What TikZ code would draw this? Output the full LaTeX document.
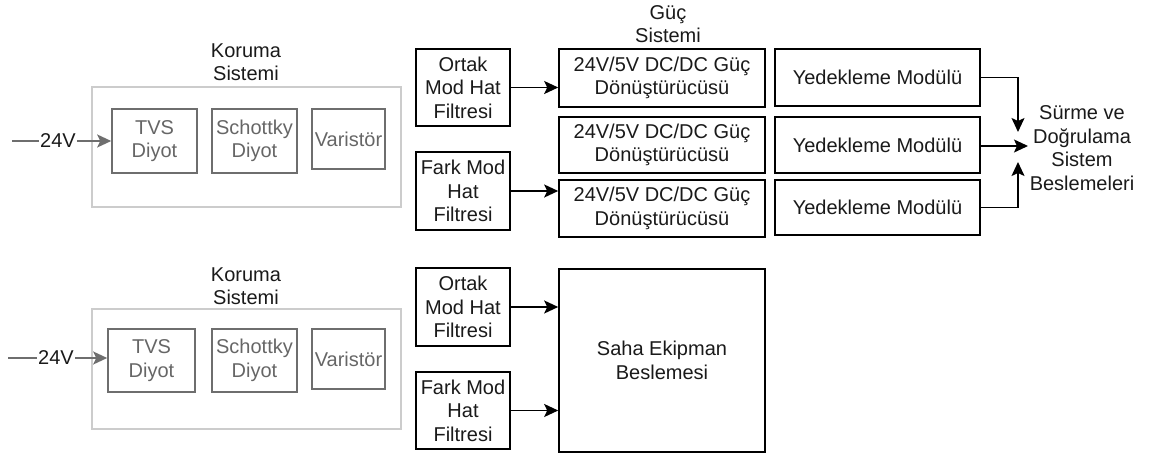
\documentclass[tikz,border=0pt]{standalone}
\usepackage{fontspec}
\setmainfont{Liberation Sans}
\usetikzlibrary{arrows.meta}
\definecolor{txt}{HTML}{1A1A1A}
\definecolor{softtxt}{HTML}{666666}
\definecolor{softline}{HTML}{6E6E6E}
\definecolor{frameline}{HTML}{CCCCCC}
\begin{document}
\begin{tikzpicture}[x=1pt,y=-1pt,
  font=\fontsize{20}{23.5}\selectfont,
  blk/.style={draw=black,line width=1.6pt,fill=white,align=center,inner sep=0pt,text=txt},
  part/.style={draw=softline,line width=1.6pt,align=center,inner sep=0pt,text=softtxt},
  frame/.style={draw=frameline,line width=1.6pt,inner sep=0pt},
  lbl/.style={align=center,inner sep=0pt,text=txt},
  arr/.style={line width=1.6pt,-{Stealth[length=14pt,width=13pt,inset=3pt]}},
  grayarr/.style={draw=softline,line width=1.6pt,-{Stealth[length=14pt,width=13pt,inset=3pt]}}]
\useasboundingbox (0,0) rectangle (1154,457);

% ---- protection system (upper) ----
\node[frame,minimum width=309pt,minimum height=120pt] (korT) at (246.5,147) {};
\node[lbl] (korTl) at (246,62) {Koruma\\Sistemi};
\node[part,minimum width=85pt,minimum height=64pt] (tvsT) at (154.5,141) {TVS\\Diyot};
\node[part,minimum width=85pt,minimum height=64pt] (schT) at (254.5,141) {Schottky\\Diyot};
\node[part,minimum width=73pt,minimum height=60pt] (varT) at (348.5,139) {Varistör};
\coordinate (inT) at (12,141);
\draw[grayarr] (inT) -- (tvsT.west);
\node[lbl,fill=white,inner xsep=1pt] (vT) at (58,141) {24V};

% ---- filters and power system (upper) ----
\node[blk,minimum width=94pt,minimum height=77pt] (ortT) at (463,87.5) {Ortak\\Mod Hat\\Filtresi};
\node[blk,minimum width=94pt,minimum height=78pt] (farkT) at (463,191) {Fark Mod\\Hat\\Filtresi};
\node[lbl] (gucl) at (668,24) {Güç\\Sistemi};
\node[blk,minimum width=206pt,minimum height=58pt] (dc1) at (662,78) {24V/5V DC/DC Güç\\Dönüştürücüsü};
\node[blk,minimum width=206pt,minimum height=56pt] (dc2) at (662,145) {24V/5V DC/DC Güç\\Dönüştürücüsü};
\node[blk,minimum width=206pt,minimum height=57pt] (dc3) at (662,208.5) {24V/5V DC/DC Güç\\Dönüştürücüsü};
\draw[arr] (ortT.east) -- (ortT.east -| dc1.west);
\draw[arr] (farkT.east) -- (farkT.east -| dc3.west);

\node[blk,minimum width=205pt,minimum height=57pt] (yed1) at (877.5,77.5) {Yedekleme Modülü};
\node[blk,minimum width=205pt,minimum height=56pt] (yed2) at (877.5,145) {Yedekleme Modülü};
\node[blk,minimum width=205pt,minimum height=55pt] (yed3) at (877.5,207.5) {Yedekleme Modülü};

\node[lbl] (sdsb) at (1082,148) {Sürme ve\\Doğrulama\\Sistem\\Beslemeleri};
\coordinate (tD) at (1018,132);
\coordinate (tR) at (1028,146);
\coordinate (tU) at (1018,162);
\draw[arr] (yed1.east) -| (tD);
\draw[arr] (yed2.east |- tR) -- (tR);
\draw[arr] (yed3.east) -| (tU);

% ---- protection system (lower) ----
\node[frame,minimum width=309pt,minimum height=120pt] (korB) at (246.5,369) {};
\node[lbl] (korBl) at (246,286) {Koruma\\Sistemi};
\node[part,minimum width=87pt,minimum height=63pt] (tvsB) at (151.5,360.5) {TVS\\Diyot};
\node[part,minimum width=85pt,minimum height=63pt] (schB) at (254.5,360.5) {Schottky\\Diyot};
\node[part,minimum width=73pt,minimum height=60pt] (varB) at (348.5,359) {Varistör};
\coordinate (inB) at (8,358);
\draw[grayarr] (inB) -- (inB -| tvsB.west);
\node[lbl,fill=white,inner xsep=1pt] (vB) at (56,358) {24V};

% ---- filters and field equipment supply (lower) ----
\node[blk,minimum width=94pt,minimum height=78pt] (ortB) at (463,307) {Ortak\\Mod Hat\\Filtresi};
\node[blk,minimum width=94pt,minimum height=77pt] (farkB) at (463,410.5) {Fark Mod\\Hat\\Filtresi};
\node[blk,minimum width=206pt,minimum height=183pt] (saha) at (662,360.5) {Saha Ekipman\\Beslemesi};
\draw[arr] (ortB.east) -- (ortB.east -| saha.west);
\draw[arr] (farkB.east) -- (farkB.east -| saha.west);
\end{tikzpicture}
\end{document}
